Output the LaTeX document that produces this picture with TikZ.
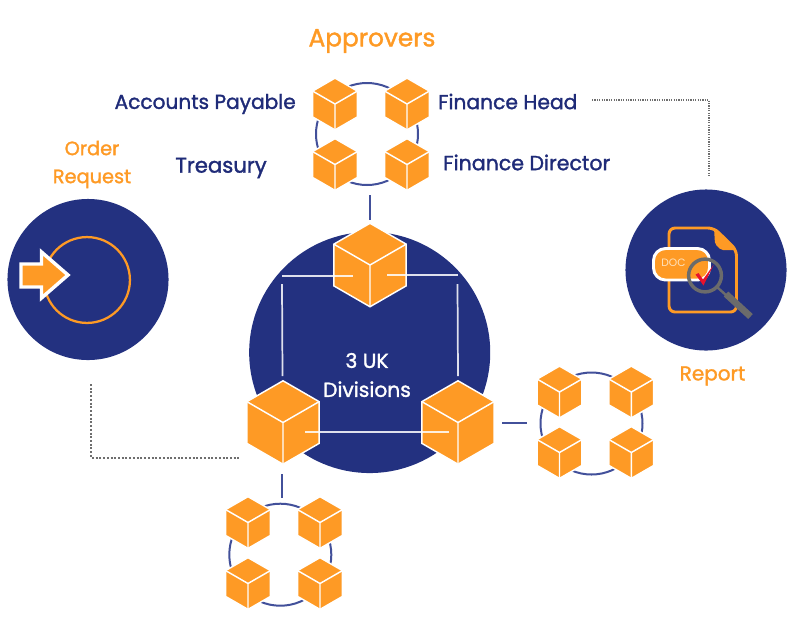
\documentclass[tikz,border=0pt]{standalone}
\usepackage{fontspec}
\setmainfont{Poppins}[FakeBold=1.5]
\newfontfamily\plainface{Poppins}
\usetikzlibrary{shapes.geometric}
\definecolor{navy}{HTML}{233180}
\definecolor{inknavy}{HTML}{1F2B78}
\definecolor{amber}{HTML}{FE9A25}
\definecolor{ringblue}{HTML}{42509A}
\definecolor{dotgrey}{HTML}{6E6E6E}
\definecolor{lensgrey}{HTML}{6B6B6B}
\definecolor{tickred}{HTML}{E8122D}
\definecolor{paleamber}{HTML}{FFE2BD}
\tikzset{
  cube/.style={regular polygon, regular polygon sides=6, shape border rotate=30,
    minimum size=2*#1, inner sep=0pt, outer sep=0pt, fill=amber, draw=white, line width=1.1pt,
    path picture={
      \draw[white, line width=1.1pt]
        (path picture bounding box.center) -- +(270:#1)
        (path picture bounding box.center) -- +(150:#1)
        (path picture bounding box.center) -- +(30:#1);
    }},
  smallcube/.style={cube=19.4pt},
  bigcube/.style={cube=31.3pt},
  ring/.style={circle, draw=ringblue, line width=1.5pt, inner sep=0pt, minimum size=76.5pt},
  disc/.style={circle, fill=navy, inner sep=0pt},
  link/.style={draw=ringblue, line width=1.5pt},
  inlink/.style={draw=white, opacity=.85, line width=1.3pt},
  dotsparse/.style={draw=dotgrey, line width=1.5pt, dash pattern=on 1.5pt off 1.3pt},
  dotsfine/.style={draw=dotgrey, line width=1.2pt, dash pattern=on .9pt off .9pt},
  lbl/.style={text=inknavy, font=\fontsize{15.4pt}{18pt}\selectfont, inner sep=0pt},
  hot/.style={text=amber, align=center, inner sep=0pt},
}
\begin{document}
\begin{tikzpicture}[x=0.75pt, y=-0.75pt]
\useasboundingbox (0,0) rectangle (799,619);

% large discs
\node[disc, minimum size=180.8pt] (core) at (369.7,352.5) {};
\node[disc, minimum size=120.8pt] (orderDisc) at (88,279.5) {};
\node[disc, minimum size=120.8pt] (reportDisc) at (706,270) {};

% rings behind the four-cube clusters
\node[ring] (ringA) at (367,134) {};
\node[ring] (ringB) at (591.5,423.5) {};
\node[ring] (ringC) at (280.3,554.7) {};

% approver cubes
\node[smallcube] (ap) at (335,104) {};
\node[smallcube] (fh) at (407,104) {};
\node[smallcube] (tr) at (335,164.5) {};
\node[smallcube] (fd) at (407,164.5) {};

% right cluster
\node[smallcube] (b1) at (559.5,392) {};
\node[smallcube] (b2) at (631.3,392) {};
\node[smallcube] (b3) at (559.5,452.5) {};
\node[smallcube] (b4) at (631.3,452.5) {};

% lower cluster
\node[smallcube] (c1) at (248,522.5) {};
\node[smallcube] (c2) at (320,522.5) {};
\node[smallcube] (c3) at (248,583.5) {};
\node[smallcube] (c4) at (320,583.5) {};

% division cubes
\node[bigcube] (divTop) at (370,265) {};
\node[bigcube] (divLeft) at (283,422.5) {};
\node[bigcube] (divRight) at (458,422.5) {};

% free ends of the connectors
\coordinate (upStub) at (370,195);
\coordinate (upEnd) at (370,220);
\coordinate (rightStub) at (502,423);
\coordinate (rightEnd) at (527,423);
\coordinate (lowStub) at (282,474);
\coordinate (lowEnd) at (282,498);
\coordinate (topInL) at (352.5,276);
\coordinate (cornerL) at (282,276);
\coordinate (sideLa) at (282,284);
\coordinate (sideLb) at (282.5,376);
\coordinate (topInR) at (387,275);
\coordinate (cornerR) at (458,275);
\coordinate (sideRa) at (457.5,284);
\coordinate (sideRb) at (458,376);
\coordinate (baseL) at (305,432);
\coordinate (baseR) at (449,432);
\coordinate (orderDrop) at (90.7,384);
\coordinate (orderBend) at (90.7,457.5);
\coordinate (orderEnd) at (240,457.5);
\coordinate (reportStart) at (592,100);
\coordinate (reportBend) at (709,100);
\coordinate (reportEnd) at (709,177);

\draw[link] (upStub) -- (upEnd);
\draw[link] (rightStub) -- (rightEnd);
\draw[link] (lowStub) -- (lowEnd);
\draw[inlink] (topInL) -- (cornerL);
\draw[inlink] (sideLa) -- (sideLb);
\draw[inlink] (topInR) -- (cornerR);
\draw[inlink] (sideRa) -- (sideRb);
\draw[inlink] (baseL) -- (baseR);
\draw[dotsparse] (orderDrop) -- (orderBend) -- (orderEnd);
\draw[dotsfine] (reportStart) -- (reportBend) -- (reportEnd);

% order request icon
\draw[amber, line width=1.7pt] (87,280) circle (32.2pt);
\fill[amber, draw=white, line width=2.6pt, line join=miter]
  (21,264) -- (41.5,264) -- (41.5,252) -- (68,275) -- (41.5,298) -- (41.5,287) -- (21,287) -- cycle;

% report icon
\draw[amber, line width=2.2pt, rounded corners=4.5pt]
  (669,228) -- (714,228) -- (736.5,250) -- (736.5,312) -- (669,312) -- cycle;
\fill[amber, rounded corners=1.5pt] (714,228) -- (737,250) -- (721,250) -- (715,244) -- cycle;
\draw[white, fill=amber, line width=2.2pt, rounded corners=9pt] (653.5,248.5) rectangle (709.5,280);
\node[text=paleamber, inner sep=0pt, font=\plainface\fontsize{8pt}{10pt}\selectfont] (docTag) at (673.5,263) {DOC};
\fill[tickred] (695.5,274.5) -- (698.5,273) -- (703,279.5) -- (713.5,265) -- (703.5,285.5) -- cycle;
\draw[lensgrey, line width=2.6pt] (705,275.5) circle (12.3pt);
\draw[lensgrey, line width=1.8pt] (717,287) -- (727,296);
\draw[lensgrey, line width=5pt] (726,294) -- (750.5,316.5);

% labels
\node[text=amber, inner sep=0pt, font=\fontsize{18.6pt}{22pt}\selectfont] (approvers) at (372,41) {Approvers};
\node[hot, font=\fontsize{14.5pt}{21pt}\selectfont] (order) at (92,164.5) {Order\\Request};
\node[hot, font=\fontsize{15pt}{17pt}\selectfont] (report) at (712.5,376) {Report};
\node[text=white, align=center, inner sep=0pt, font=\fontsize{15.2pt}{21.7pt}\selectfont] (coreLabel) at (367,375) {3 UK\\Divisions};
\node[lbl, anchor=east, font=\fontsize{15.1pt}{18pt}\selectfont] (apLabel) at (296,104) {Accounts Payable};
\node[lbl, anchor=west, font=\fontsize{15.2pt}{18pt}\selectfont] (fhLabel) at (438,101.5) {Finance Head};
\node[lbl, anchor=east, font=\fontsize{15.9pt}{18pt}\selectfont] (trLabel) at (267,168) {Treasury};
\node[lbl, anchor=west] (fdLabel) at (443,162.5) {Finance Director};
\end{tikzpicture}
\end{document}
